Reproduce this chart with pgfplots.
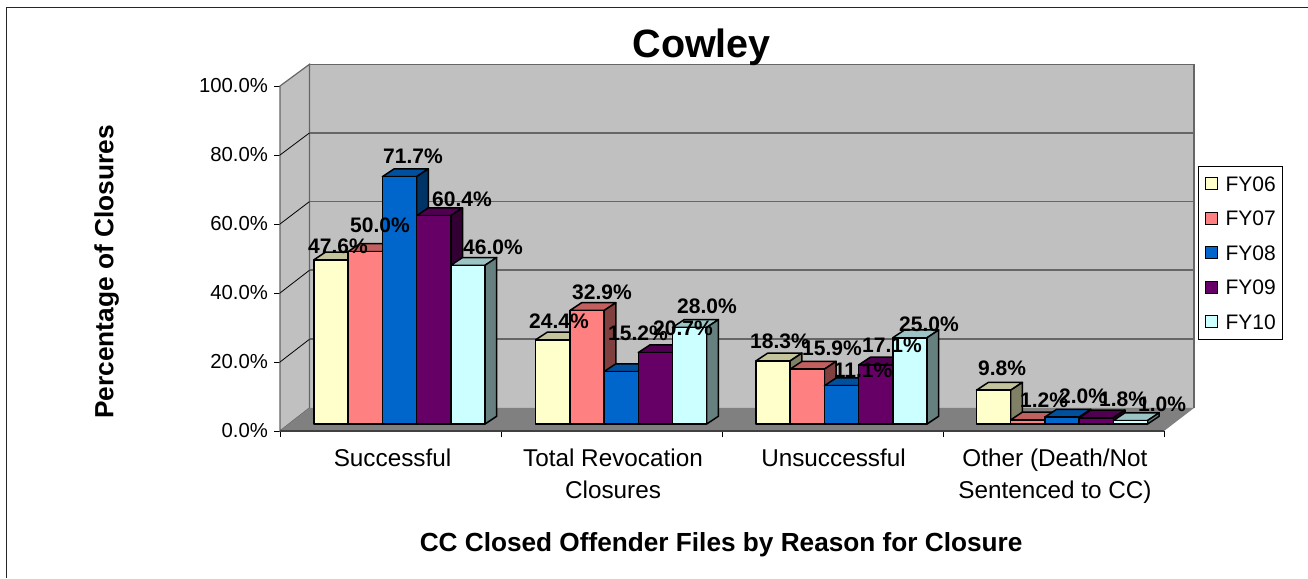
\documentclass[border=0pt]{standalone}
\usepackage{pgfplots}
\pgfplotsset{compat=1.18}
\usepackage{fontspec}
\setmainfont{Liberation Sans}
\definecolor{barA}{HTML}{FFFFCC}\definecolor{barAt}{HTML}{C4C49C}\definecolor{barAs}{HTML}{808066}
\definecolor{barB}{HTML}{FF8080}\definecolor{barBt}{HTML}{C26060}\definecolor{barBs}{HTML}{804040}
\definecolor{barC}{HTML}{0066CC}\definecolor{barCt}{HTML}{00509E}\definecolor{barCs}{HTML}{003366}
\definecolor{barD}{HTML}{660066}\definecolor{barDt}{HTML}{510051}\definecolor{barDs}{HTML}{330033}
\definecolor{barE}{HTML}{CCFFFF}\definecolor{barEt}{HTML}{9CC4C4}\definecolor{barEs}{HTML}{668080}
\definecolor{wallc}{HTML}{C0C0C0}\definecolor{floorc}{HTML}{808080}\definecolor{gridc}{HTML}{666666}
% group base x, index in group, value, colour letter
\newcommand{\threedbar}[4]{%
  \pgfmathsetmacro\xl{#1+34.2*#2}%
  \pgfmathsetmacro\xr{\xl+34.2}%
  \pgfmathsetmacro\xlb{\xl+11.7}%
  \pgfmathsetmacro\xrb{\xr+11.7}%
  \pgfmathsetmacro\vb{#3+2.25}%
  \addplot[forget plot,fill=bar#4t,draw=black,line width=1.5pt,line join=round] coordinates {(\xl,#3) (\xr,#3) (\xrb,\vb) (\xlb,\vb)} -- cycle;
  \addplot[forget plot,fill=bar#4s,draw=black,line width=1.5pt,line join=round] coordinates {(\xr,0) (\xrb,2.25) (\xrb,\vb) (\xr,#3)} -- cycle;
  \addplot[forget plot,fill=bar#4,draw=black,line width=1.5pt,line join=round] coordinates {(\xl,0) (\xr,0) (\xr,#3) (\xl,#3)} -- cycle;
}
\newcommand{\lbl}[3]{\node[font=\fontsize{21}{24}\selectfont\bfseries,inner sep=0pt] at (axis cs:#1,{(424-#2)/3.45}) {#3\%};}
\begin{document}
\begin{tikzpicture}
\useasboundingbox (0,0) rectangle (1308pt,-578pt);
\draw[line width=1.8pt,color=black!85] (6.5pt,-578pt) -- (6.5pt,-7.5pt) -- (1308pt,-7.5pt);
\begin{axis}[
  at={(280pt,-431pt)},anchor=south west,scale only axis,width=884pt,height=345pt,
  xmin=280,xmax=1164,ymin=0,ymax=100,clip=false,
  axis x line=bottom,axis y line=left,
  axis line style={-,line width=1pt,draw=black},
  tick align=outside,major tick length=6pt,minor tick length=6pt,
  tick style={black,line width=1pt},
  major x tick style={draw=none},
  xtick={392.5,613,833.5,1055},
  minor xtick={280,501,722,943,1164},
  xticklabels={Successful,{Total Revocation\\Closures},Unsuccessful,{Other (Death/Not\\Sentenced to CC)}},
  xticklabel style={font=\fontsize{24.3}{32}\selectfont,align=center,yshift=-8pt},
  ytick={0,20,40,60,80,100},
  yticklabels={0.0\%,20.0\%,40.0\%,60.0\%,80.0\%,100.0\%},
  yticklabel style={font=\fontsize{20.3}{24}\selectfont,xshift=-2.5pt,yshift=.5pt},
  title={Cowley},
  title style={font=\fontsize{39.5}{44}\selectfont\bfseries,at={(axis description cs:0.477,1.096)},anchor=center},
  xlabel={CC Closed Offender Files by Reason for Closure},
  xlabel style={font=\fontsize{26.2}{30}\selectfont\bfseries,at={(axis description cs:0.499,-0.33)},anchor=center},
  ylabel={Percentage of Closures},
  ylabel style={font=\fontsize{26.3}{30}\selectfont\bfseries,at={(axis description cs:-0.196,0.461)},anchor=center,rotate=0},
]
% walls
\addplot[forget plot,fill=wallc,draw=none] coordinates {(309.5,6.67) (1194,6.67) (1194,106.3) (309.5,106.3)} -- cycle;
\addplot[forget plot,fill=wallc,draw=gridc,line width=1.2pt] coordinates {(280,0) (309.5,6.67) (309.5,106.3) (280,100)} -- cycle;
\addplot[forget plot,fill=floorc,draw=none] coordinates {(280,0) (1164,0) (1194,6.67) (309.5,6.67)} -- cycle;
\addplot[forget plot,gridc,line width=1.5pt] coordinates {(309.5,26.6) (1194,26.6)};
\addplot[forget plot,gridc,line width=1.5pt] coordinates {(309.5,46.6) (1194,46.6)};
\addplot[forget plot,gridc,line width=1.5pt] coordinates {(309.5,66.5) (1194,66.5)};
\addplot[forget plot,gridc,line width=1.5pt] coordinates {(309.5,86.4) (1194,86.4)};
\addplot[forget plot,gridc,line width=1.5pt] coordinates {(309.5,106.3) (1194,106.3) (1194,6.67)};
\addplot[forget plot,black,line width=.8pt] coordinates {(280,20) (309.5,26.6)};
\addplot[forget plot,black,line width=.8pt] coordinates {(280,40) (309.5,46.6)};
\addplot[forget plot,black,line width=.8pt] coordinates {(280,60) (309.5,66.5)};
\addplot[forget plot,black,line width=.8pt] coordinates {(280,80) (309.5,86.4)};
\addplot[forget plot,color=black!75,line width=2pt] coordinates {(280,0) (1164,0)};
\end{axis}
\begin{axis}[
  at={(280pt,-424pt)},anchor=south west,scale only axis,width=884pt,height=345pt,
  xmin=280,xmax=1164,ymin=0,ymax=100,clip=false,axis lines=none,
  legend style={at={(1.0385,0.7487)},anchor=north west,draw=black,line width=.9pt,
    font=\fontsize{21}{24}\selectfont,inner xsep=6pt,inner ysep=9pt,row sep=17.5pt,
    nodes={inner sep=1pt,text height=15pt,text depth=0pt},cells={anchor=west}},
  legend cell align=left,
  legend image code/.code={\draw[#1,line width=1.3pt] (0pt,-6pt) rectangle (12pt,6pt);\path (19pt,0pt);},
]
\threedbar{314}{0}{47.6}{A}\threedbar{314}{1}{50.0}{B}\threedbar{314}{2}{71.7}{C}\threedbar{314}{3}{60.4}{D}\threedbar{314}{4}{46.0}{E}
\threedbar{535.7}{0}{24.4}{A}\threedbar{535.7}{1}{32.9}{B}\threedbar{535.7}{2}{15.2}{C}\threedbar{535.7}{3}{20.7}{D}\threedbar{535.7}{4}{28.0}{E}
\threedbar{756}{0}{18.3}{A}\threedbar{756}{1}{15.9}{B}\threedbar{756}{2}{11.1}{C}\threedbar{756}{3}{17.1}{D}\threedbar{756}{4}{25.0}{E}
\threedbar{976.5}{0}{9.8}{A}\threedbar{976.5}{1}{1.2}{B}\threedbar{976.5}{2}{2.0}{C}\threedbar{976.5}{3}{1.8}{D}\threedbar{976.5}{4}{1.0}{E}
\addlegendimage{fill=barA,draw=black}\addlegendentry{FY06}
\addlegendimage{fill=barB,draw=black}\addlegendentry{FY07}
\addlegendimage{fill=barC,draw=black}\addlegendentry{FY08}
\addlegendimage{fill=barD,draw=black}\addlegendentry{FY09}
\addlegendimage{fill=barE,draw=black}\addlegendentry{FY10}
\lbl{338}{246}{47.6}\lbl{380}{225}{50.0}\lbl{413}{156}{71.7}\lbl{462}{199}{60.4}\lbl{493}{247}{46.0}
\lbl{559}{321}{24.4}\lbl{602}{292}{32.9}\lbl{638}{333}{15.2}\lbl{683}{328}{20.7}\lbl{707}{306}{28.0}
\lbl{780}{341}{18.3}\lbl{832}{348}{15.9}\lbl{863}{370}{11.1}\lbl{892}{345}{17.1}\lbl{929}{324}{25.0}
\lbl{1002}{368}{9.8}\lbl{1044}{400}{1.2}\lbl{1083}{396}{2.0}\lbl{1123}{399}{1.8}\lbl{1162}{404}{1.0}
\end{axis}
\end{tikzpicture}
\end{document}
